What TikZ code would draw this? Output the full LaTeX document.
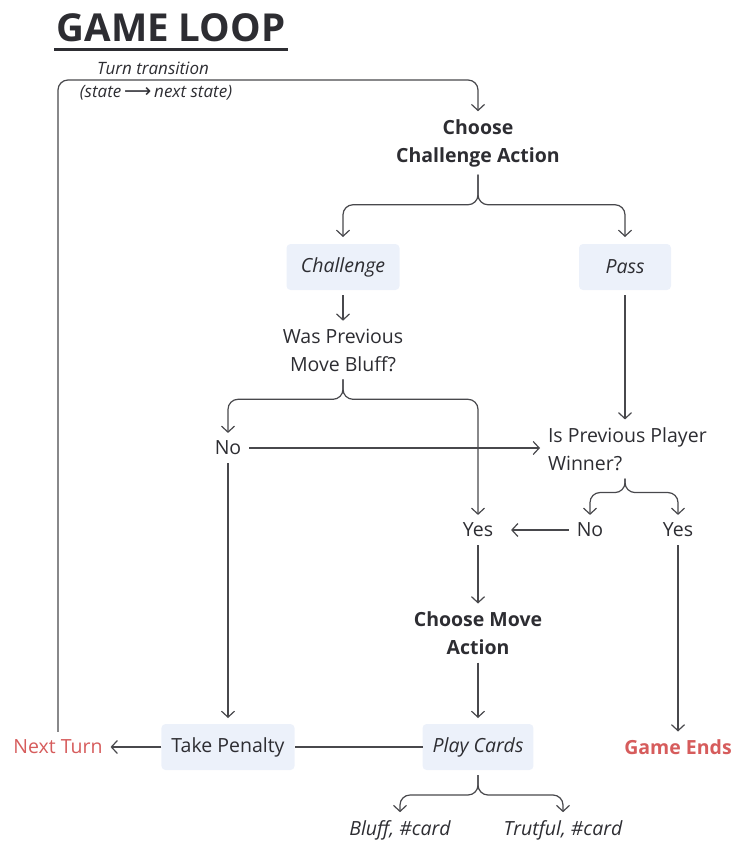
\documentclass[tikz,border=0pt]{standalone}
\usepackage{fontspec}
\setmainfont{Open Sans}
\newfontfamily\symfont{DejaVu Sans}
\usepackage{xcolor}
\usepackage{tikz}
\usetikzlibrary{arrows.meta, positioning, calc}
\definecolor{GLInk}{RGB}{45, 45, 50}
\definecolor{GLLine}{RGB}{72, 72, 76}
\definecolor{GLBox}{RGB}{236, 241, 250}
\definecolor{GLRed}{RGB}{214, 92, 92}

\tikzset{
  txt/.style={font=\fontsize{19.5}{28}\selectfont, text=GLInk, align=center, inner sep=2pt, outer sep=6pt},
  bold/.style={font=\fontsize{19.5}{28}\selectfont\bfseries},
  ital/.style={font=\fontsize{19.5}{28}\selectfont\itshape},
  box/.style={txt, fill=GLBox, rounded corners=4pt, minimum height=46pt, inner xsep=10pt, outer sep=0pt},
  flow/.style={draw=GLLine, line width=1.2pt, -{Straight Barb[length=6pt,width=13pt]}},
  split/.style={flow, rounded corners=10pt},
  plain/.style={draw=GLLine, line width=1.2pt},
}

\begin{document}
\begin{tikzpicture}[x=1pt, y=-1pt]
  \useasboundingbox (0,0) rectangle (735,842);

  % title
  \node[font=\fontsize{38.5}{44}\selectfont\bfseries, text=GLInk, inner sep=0pt] (title) at (171,28) {GAME LOOP};
  \draw[GLInk, line width=2.5pt] ([yshift=-7pt,xshift=-2pt]title.south west) -- ([yshift=-7pt,xshift=2pt]title.south east);

  % nodes
  \node[txt, bold] (cca) at (478,143) {Choose\\Challenge Action};
  \node[box, ital, minimum width=113pt] (chal) at (343,267) {Challenge};
  \node[box, ital, minimum width=92pt] (pass) at (625,267) {Pass};
  \node[txt] (bluffq) at (343,350) {Was Previous\\Move Bluff?};
  \node[txt] (no1) at (228,448) {No};
  \node[txt, align=left, anchor=west] (winq) at (540,449) {Is Previous Player\\Winner?};
  \node[txt] (yes1) at (478,530) {Yes};
  \node[txt] (no2) at (590,530) {No};
  \node[txt] (yes2) at (678,530) {Yes};
  \node[txt, bold] (cma) at (478,633) {Choose Move\\Action};
  \node[box, ital] (play) at (478,747) {Play Cards};
  \node[box] (pen) at (228,747) {Take Penalty};
  \node[txt, text=GLRed] (next) at (58,747) {Next Turn};
  \node[txt, bold, text=GLRed] (ends) at (678,747) {Game Ends};
  \node[txt, ital] (bluff) at (400,830) {Bluff, \#card};
  \node[txt, ital] (truth) at (563,830) {Trutful, \#card};

  % turn transition
  \coordinate (loop) at (478,80);
  \node[txt, font=\fontsize{17}{18}\selectfont\itshape, outer sep=0pt] (trlbl) at (153,68) {Turn transition};
  \node[txt, font=\fontsize{17}{18}\selectfont\itshape, outer sep=0pt] (trstate) at (156,93) {(state\,{\symfont\fontsize{19}{18}\selectfont ⟶}\,next state)};
  \draw[split] (next.north) |- (loop) -- (cca.north);

  % connectors
  \draw[split, shorten >=7pt] (cca.south) -- ++(0,30) -| (chal.north);
  \draw[split, shorten >=7pt] (cca.south) -- ++(0,30) -| (pass.north);
  \draw[flow, shorten <=5pt] (chal.south) -- (bluffq.north);
  \draw[split] (bluffq.south) -- ++(0,20) -| (no1.north);
  \draw[split] (bluffq.south) -- ++(0,20) -| (yes1.north);
  \draw[flow] (no1.east) -- (no1.east -| winq.west);
  \draw[flow, shorten <=5pt] (pass.south) -- (pass.south |- winq.north);
  \draw[split] (pass.south |- winq.south) -- ++(0,14) -| (no2.north);
  \draw[split] (pass.south |- winq.south) -- ++(0,14) -| (yes2.north);
  \draw[flow, shorten >=10pt] (no2.west) -- (yes1.east);
  \draw[flow] (yes1.south) -- (cma.north);
  \draw[flow, shorten >=6pt] (cma.south) -- (play.north);
  \draw[plain] (play.west) -- (pen.east);
  \draw[flow] (pen.west) -- (next.east);
  \draw[flow, shorten >=6pt] (no1.south) -- (pen.north);
  \draw[flow] (yes2.south) -- (ends.north);
  \draw[split, shorten <=5pt] (play.south) -- ++(0,25) -| (bluff.north);
  \draw[split, shorten <=5pt] (play.south) -- ++(0,25) -| (truth.north);
\end{tikzpicture}
\end{document}
